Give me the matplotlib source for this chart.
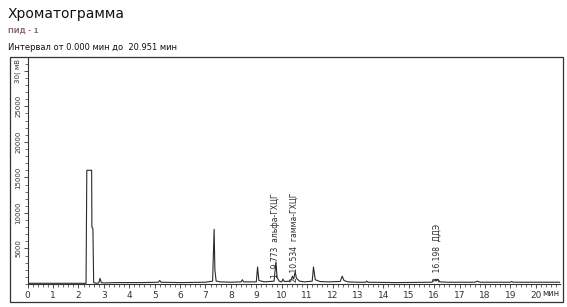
import matplotlib
matplotlib.use("Agg")
import matplotlib.pyplot as plt
from matplotlib.patches import Rectangle
from matplotlib.ticker import MultipleLocator

plt.rcParams['font.family'] = ['DejaVu Sans']

# Chromatogram trace (time in min, signal in mV)
times = [0.0, 2.30, 2.33, 2.52, 2.53, 2.57, 2.60, 2.70, 2.80, 2.85, 2.90, 3.00, 3.50,
         4.50, 5.15, 5.20, 5.25, 6.00, 7.00, 7.28, 7.34, 7.37, 7.42, 7.60, 8.00,
         8.40, 8.45, 8.50, 9.00, 9.05, 9.10, 9.30, 9.70, 9.77, 9.82, 9.90, 10.00,
         10.05, 10.10, 10.35, 10.42, 10.47, 10.53, 10.58, 10.70, 10.90, 11.20, 11.25,
         11.32, 11.50, 11.80, 12.30, 12.38, 12.45, 12.60, 13.00, 13.30, 13.35, 13.40,
         14.50, 15.90, 16.00, 16.05, 16.10, 16.15, 16.22, 16.50, 17.60, 17.70, 17.80,
         19.00, 19.05, 19.10, 20.951]
signal = [100, 100, 16000, 16000, 8000, 7800, 200, 100, 150, 800, 200, 150, 200,
          200, 250, 500, 250, 200, 250, 400, 7700, 2000, 400, 300, 250,
          300, 600, 300, 300, 2400, 500, 300, 400, 3100, 900, 400, 300,
          700, 350, 400, 1100, 700, 1700, 800, 400, 300, 400, 2400,
          600, 350, 300, 350, 1100, 500, 300, 250, 250, 400, 250,
          200, 250, 500, 650, 450, 650, 300, 250, 250, 400, 250,
          250, 350, 250, 250]

# Peak annotations
peak_times = [9.74, 10.47, 16.12]
peak_labels = ["1  9.773  альфа-ГХЦГ", "2  10.534  гамма-ГХЦГ", "3  16.198  ДДЭ"]
peak_label_y = [900, 250, 350]

x_ticks = list(range(0, 21))
y_ticks = [5000, 10000, 15000, 20000, 25000, 30000]
y_tick_labels = ["5000", "10000", "15000", "20000", "25000", ""]
y_top_label = "30( мВ"

W, H = 567, 307
fig = plt.figure(figsize=(W / 100, H / 100), dpi=100)

def fx(px):
    return px / W

def fy(py):
    return 1 - py / H

ink = '#2a2a2a'

# outer frame
fig.patches.append(Rectangle((fx(10), fy(302)), fx(563) - fx(10), fy(57) - fy(302),
                             transform=fig.transFigure, fill=False,
                             edgecolor='#333333', linewidth=0.9))

ax = fig.add_axes([fx(27.6), fy(284), fx(560) - fx(27.6), fy(58) - fy(284)])
ax.plot(times, signal, color=ink, linewidth=0.8)
ax.set_xlim(0, 20.951)
ax.set_ylim(0, 31800)

for s in ['top', 'right']:
    ax.spines[s].set_visible(False)
for s in ['left', 'bottom']:
    ax.spines[s].set_color('#333333')
    ax.spines[s].set_linewidth(0.8)

ax.set_xticks(x_ticks)
ax.set_xticklabels([str(t) for t in x_ticks])
ax.xaxis.set_minor_locator(MultipleLocator(0.2))
ax.set_yticks(y_ticks)
ax.set_yticklabels(y_tick_labels, rotation=90, va='center')
ax.yaxis.set_minor_locator(MultipleLocator(1000))
ax.tick_params(axis='x', which='major', length=3, width=0.6, labelsize=6.5,
               colors='#333333', pad=2)
ax.tick_params(axis='x', which='minor', length=2, width=0.5, colors='#333333')
ax.tick_params(axis='y', which='major', length=3, width=0.6, labelsize=5,
               colors='#333333', pad=1.5)
ax.tick_params(axis='y', which='minor', length=2, width=0.5, colors='#333333')

for t, lab, yy in zip(peak_times, peak_labels, peak_label_y):
    ax.text(t, yy, lab, rotation=90, ha='center', va='bottom', fontsize=5.5,
            color=ink)

# unit labels
fig.text(fx(542), fy(293), "мин", fontsize=6, color='#333333', ha='left',
         va='center', bbox=dict(facecolor='white', edgecolor='none', pad=0.3))
fig.text(fx(17.5), fy(59), y_top_label, fontsize=5, color='#333333', ha='center',
         va='top', rotation=90)

# header texts
fig.text(fx(8), fy(14), "Хроматограмма", fontsize=10, color='#111111',
         ha='left', va='center')
fig.text(fx(8), fy(31), "ПИД - 1", fontsize=5, color='#8a6a70',
         ha='left', va='center', fontweight='bold')
fig.text(fx(8), fy(47), "Интервал от 0.000 мин до  20.951 мин", fontsize=6,
         color='#111111', ha='left', va='center')

fig.savefig("out.png", dpi=100)
